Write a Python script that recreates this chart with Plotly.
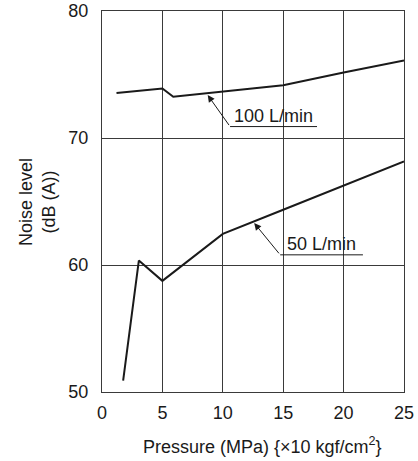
import plotly.graph_objects as go

# Data
pressure_100 = [1.2, 5.0, 5.9, 10.0, 15.0, 20.0, 25.0]
noise_100 = [73.55, 73.9, 73.25, 73.65, 74.15, 75.15, 76.1]

pressure_50 = [1.75, 3.05, 5.0, 7.5, 10.0, 15.0, 20.0, 25.0]
noise_50 = [50.9, 60.35, 58.75, 60.6, 62.45, 64.35, 66.25, 68.15]

x_ticks = [0, 5, 10, 15, 20, 25]
y_ticks = [50, 60, 70, 80]

# Label callouts: arrow tip, elbow, underline end, text
callouts = [
    dict(text="100 L/min", tip=(8.75, 73.38), elbow=(10.6, 70.9), end=17.8),
    dict(text="50 L/min", tip=(12.6, 63.3), elbow=(14.75, 60.8), end=21.6),
]

FONT = "Liberation Sans, Arial, sans-serif"
INK = "#1a1a1a"
GRID = "#3a3a3a"
FS = 18

fig = go.Figure()
fig.add_trace(go.Scatter(x=pressure_100, y=noise_100, mode="lines",
                         line=dict(color=INK, width=2), showlegend=False))
fig.add_trace(go.Scatter(x=pressure_50, y=noise_50, mode="lines",
                         line=dict(color=INK, width=2), showlegend=False))

for c in callouts:
    # leader with arrowhead
    fig.add_annotation(x=c["tip"][0], y=c["tip"][1], ax=c["elbow"][0], ay=c["elbow"][1],
                       xref="x", yref="y", axref="x", ayref="y", text="",
                       showarrow=True, arrowhead=2, arrowsize=1.4, arrowwidth=1,
                       arrowcolor=INK, standoff=0)
    # underline
    fig.add_shape(type="line", x0=c["elbow"][0], y0=c["elbow"][1], x1=c["end"],
                  y1=c["elbow"][1], xref="x", yref="y", line=dict(color=INK, width=1))
    fig.add_annotation(x=(c["elbow"][0] + c["end"]) / 2, y=c["elbow"][1], xref="x", yref="y",
                       text=c["text"], showarrow=False, yanchor="bottom", yshift=-1,
                       font=dict(family=FONT, size=FS, color=INK))

# Axis titles
fig.add_annotation(x=0.533, y=0, xref="paper", yref="paper", yshift=-53,
                   text="Pressure (MPa) {×10 kgf/cm<sup>2</sup>}", showarrow=False,
                   xanchor="center", yanchor="middle",
                   font=dict(family=FONT, size=FS, color=INK))
fig.add_annotation(x=-0.2136, y=0.5, xref="paper", yref="paper",
                   text="Noise level<br>(dB (A))", showarrow=False, textangle=-90,
                   xanchor="center", yanchor="middle",
                   font=dict(family=FONT, size=FS, color=INK))

axis_common = dict(showgrid=True, gridcolor=GRID, gridwidth=1, showline=True,
                   linecolor=GRID, linewidth=1, mirror=True, zeroline=False,
                   ticks="", automargin=False,
                   tickfont=dict(family=FONT, size=FS, color=INK))

fig.update_xaxes(range=[0, 25], tickvals=x_ticks, ticklabelstandoff=4, **axis_common)
fig.update_yaxes(range=[50, 80], tickvals=y_ticks, ticklabelstandoff=9, **axis_common)

fig.update_layout(width=418, height=461, margin=dict(l=102, r=14, t=11, b=69),
                  plot_bgcolor="white", paper_bgcolor="white",
                  font=dict(family=FONT, color=INK))

fig.write_html("out.html", config={"displayModeBar": False},
               post_script="document.body.style.margin='0';document.body.style.overflow='hidden';")
